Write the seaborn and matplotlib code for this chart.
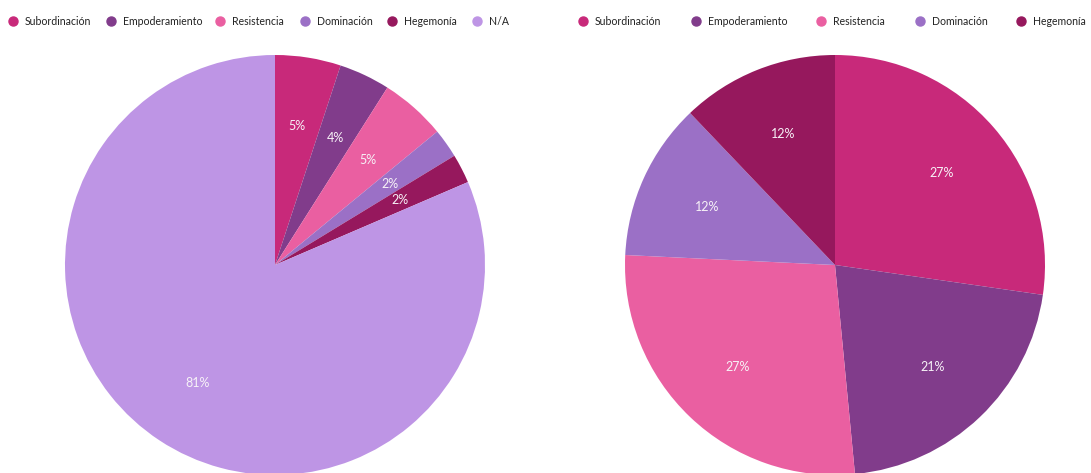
import matplotlib
matplotlib.use("Agg")
import matplotlib.pyplot as plt
from matplotlib.lines import Line2D
import seaborn as sns

# ---- data ----
categories_left = ["Subordinación", "Empoderamiento", "Resistencia", "Dominación", "Hegemonía", "N/A"]
values_left = [9, 7, 9, 4, 4, 145]
categories_right = ["Subordinación", "Empoderamiento", "Resistencia", "Dominación", "Hegemonía"]
values_right = [9, 7, 9, 4, 4]

color_map = {
    "Subordinación": "#C8297A",
    "Empoderamiento": "#813C8B",
    "Resistencia": "#EA5FA1",
    "Dominación": "#9B70C6",
    "Hegemonía": "#96185D",
    "N/A": "#BE95E5",
}

sns.set_style("white")
plt.rcParams["font.family"] = ["Lato", "DejaVu Sans"]

W, H = 1091, 473
fig = plt.figure(figsize=(W / 100, H / 100), dpi=100)
fig.patch.set_facecolor("white")


def px_axes(x0, y0, w, h):
    return fig.add_axes([x0 / W, 1 - (y0 + h) / H, w / W, h / H])


def draw_pie(ax, cats, vals):
    pal = sns.color_palette([color_map[c] for c in cats])
    ax.pie(
        vals,
        colors=pal,
        startangle=90,
        counterclock=False,
        autopct=lambda p: f"{p:.0f}%",
        pctdistance=0.67,
        wedgeprops=dict(linewidth=0),
        textprops=dict(color="#F7F2F7", fontsize=9),
    )
    ax.set_xlim(-1, 1)
    ax.set_ylim(-1, 1)
    ax.set_aspect("equal")
    ax.axis("off")


ax1 = px_axes(65, 55, 420, 420)
draw_pie(ax1, categories_left, values_left)
ax2 = px_axes(625, 55, 420, 420)
draw_pie(ax2, categories_right, values_right)

# ---- legends ----
legend_y = 1 - 21 / H
left_marker_x = [13, 111, 220, 305, 392, 477]
right_marker_x = [583, 696, 821, 920, 1021]
for cats, xs in ((categories_left, left_marker_x), (categories_right, right_marker_x)):
    for c, x in zip(cats, xs):
        fig.add_artist(Line2D([x / W], [legend_y], marker="o", markersize=6.5,
                              color=color_map[c], linestyle="none",
                              transform=fig.transFigure))
        fig.text((x + 12) / W, legend_y, c, fontsize=7.6, color="#222222",
                 va="center", ha="left")

fig.savefig("out.png", dpi=100, facecolor="white")
